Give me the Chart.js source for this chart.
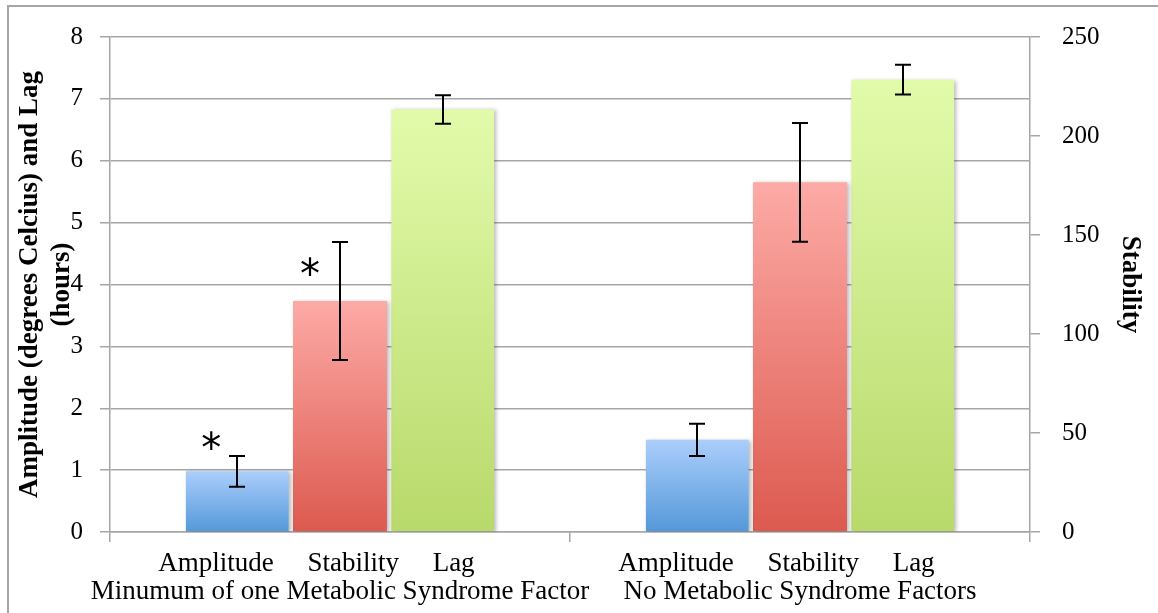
<!DOCTYPE html>
<html>
<head>
<meta charset="utf-8">
<script src="https://cdn.jsdelivr.net/npm/chart.js@4.4.1/dist/chart.umd.min.js"></script>
<style>
  html, body { margin: 0; padding: 0; background: #fff; overflow: hidden; }
  #frame {
    position: absolute; left: 7px; top: 5px; width: 1300px; height: 800px;
    border: 2px solid #a6a6a6; box-sizing: border-box;
  }
  #wrap { position: absolute; left: 0; top: 0; width: 1158px; height: 613px; }
</style>
</head>
<body>
<div id="frame"></div>
<div id="wrap"><canvas id="chart"></canvas></div>
<script>
// Groups and measures
const groupNames = ['Minumum of one Metabolic Syndrome Factor', 'No Metabolic Syndrome Factors'];
const measureNames = ['Amplitude', 'Stability', 'Lag'];

// Mean values per group (Amplitude and Lag on left axis, Stability on right axis)
const amplitude = [0.98, 1.49];
const stability = [116.7, 176.6];
const lag = [6.83, 7.31];

// Error bar half-lengths
const amplitudeErr = [0.25, 0.26];
const stabilityErr = [29.8, 30.0];
const lagErr = [0.23, 0.24];

// Significance marks (*) per group
const amplitudeSig = [true, false];
const stabilitySig = [true, false];
const lagSig = [false, false];

// Axis ticks
const leftTicks = [0, 1, 2, 3, 4, 5, 6, 7, 8];
const rightTicks = [0, 50, 100, 150, 200, 250];

const GRID = '#a6a6a6';
const serif = '"Liberation Serif", "DejaVu Serif", serif';

/**
 * Vertical gradient per bar, light at top, darker at the base
 */
function barGradient(top, bottom) {
  return (ctx) => {
    const chart = ctx.chart;
    if (ctx.type !== 'data' || !chart.chartArea) return bottom;
    const scale = chart.scales[ctx.dataset.yAxisID];
    const yTop = scale.getPixelForValue(ctx.raw);
    const yBase = scale.getPixelForValue(0);
    if (!isFinite(yTop) || !isFinite(yBase) || yTop === yBase) return bottom;
    const g = chart.ctx.createLinearGradient(0, yTop, 0, yBase);
    g.addColorStop(0, top);
    g.addColorStop(1, bottom);
    return g;
  };
}

// Bar shadow + error bars + asterisks
const decorPlugin = {
  id: 'decor',
  beforeDatasetsDraw(chart) {
    const c = chart.ctx;
    c.save();
    c.shadowColor = 'rgba(0,0,0,0.28)';
    c.shadowBlur = 4;
    c.shadowOffsetX = 2;
    c.shadowOffsetY = 1;
  },
  afterDatasetsDraw(chart) {
    const c = chart.ctx;
    c.restore();

    c.save();
    c.strokeStyle = '#000';
    c.lineWidth = 2;
    chart.data.datasets.forEach((ds, i) => {
      const meta = chart.getDatasetMeta(i);
      const scale = chart.scales[ds.yAxisID];
      meta.data.forEach((bar, j) => {
        const v = ds.data[j], e = ds.errors[j];
        const x = Math.round(bar.x);
        const y1 = scale.getPixelForValue(v + e);
        const y2 = scale.getPixelForValue(v - e);
        c.beginPath();
        c.moveTo(x, y1); c.lineTo(x, y2);
        c.moveTo(x - 8, y1); c.lineTo(x + 8, y1);
        c.moveTo(x - 8, y2); c.lineTo(x + 8, y2);
        c.stroke();
      });
    });
    c.restore();

    // asterisks: placed beside the top of the error bar
    c.save();
    c.fillStyle = '#000';
    c.font = '40px "DejaVu Sans", sans-serif';
    c.textAlign = 'center';
    c.textBaseline = 'middle';
    const starOffset = [{ dx: -26, dy: -4 }, { dx: -30, dy: 36 }, { dx: -26, dy: -4 }];
    chart.data.datasets.forEach((ds, i) => {
      const meta = chart.getDatasetMeta(i);
      const scale = chart.scales[ds.yAxisID];
      meta.data.forEach((bar, j) => {
        if (!ds.sig[j]) return;
        const yTop = scale.getPixelForValue(ds.data[j] + ds.errors[j]);
        c.fillText('*', bar.x + starOffset[i].dx, yTop + starOffset[i].dy);
      });
    });
    c.restore();
  }
};

const labels = groupNames.map(g => [measureNames.join('     ') + '       ', g]);

new Chart(document.getElementById('chart'), {
  type: 'bar',
  data: {
    labels: labels,
    datasets: [
      {
        label: measureNames[0], data: amplitude, errors: amplitudeErr, sig: amplitudeSig,
        yAxisID: 'y', backgroundColor: barGradient('#abcefc', '#5498d9'),
        barPercentage: 1.0, categoryPercentage: 0.67
      },
      {
        label: measureNames[1], data: stability, errors: stabilityErr, sig: stabilitySig,
        yAxisID: 'y2', backgroundColor: barGradient('#fdaaa6', '#dc5a4f'),
        barPercentage: 0.915, categoryPercentage: 0.67
      },
      {
        label: measureNames[2], data: lag, errors: lagErr, sig: lagSig,
        yAxisID: 'y', backgroundColor: barGradient('#e2fbab', '#b8d96b'),
        barPercentage: 1.0, categoryPercentage: 0.67
      }
    ]
  },
  options: {
    responsive: true,
    maintainAspectRatio: false,
    animation: false,
    layout: { padding: { top: 35, left: 0, right: 0, bottom: 0 } },
    plugins: {
      legend: { display: false },
      tooltip: { enabled: false }
    },
    scales: {
      x: {
        offset: true,
        grid: { offset: true, drawOnChartArea: false, drawTicks: true, tickLength: 10, color: GRID, lineWidth: 1.5 },
        border: { color: GRID, width: 1.5 },
        ticks: {
          color: '#000', font: { family: serif, size: 27, lineHeight: 1.04 },
          padding: 8, maxRotation: 0, autoSkip: false
        },
        afterFit: (s) => { s.height = 81; }
      },
      y: {
        position: 'left', min: 0, max: 8,
        afterBuildTicks: (s) => { s.ticks = leftTicks.map(v => ({ value: v })); },
        grid: { color: GRID, lineWidth: 1.5, tickLength: 10 },
        border: { color: GRID, width: 1.5 },
        ticks: { color: '#000', font: { family: serif, size: 25 }, padding: 17 },
        title: {
          display: true,
          text: ['Amplitude (degrees Celcius) and Lag', '(hours)'],
          color: '#000',
          font: { family: serif, size: 27, weight: 'bold', lineHeight: 1.18 },
          padding: { top: 14, bottom: 0 }
        },
        afterFit: (s) => { s.width = 110; }
      },
      y2: {
        position: 'right', min: 0, max: 250,
        afterBuildTicks: (s) => { s.ticks = rightTicks.map(v => ({ value: v })); },
        grid: { drawOnChartArea: false, color: GRID, lineWidth: 1.5, tickLength: 10 },
        border: { color: GRID, width: 1.5 },
        ticks: { color: '#000', font: { family: serif, size: 25 }, padding: 22 },
        title: {
          display: true,
          text: 'Stability',
          color: '#000',
          font: { family: serif, size: 27, weight: 'bold', lineHeight: 1.18 },
          padding: { top: 12, bottom: 0 }
        },
        afterFit: (s) => { s.width = 128; }
      }
    }
  },
  plugins: [decorPlugin]
});
</script>
</body>
</html>
